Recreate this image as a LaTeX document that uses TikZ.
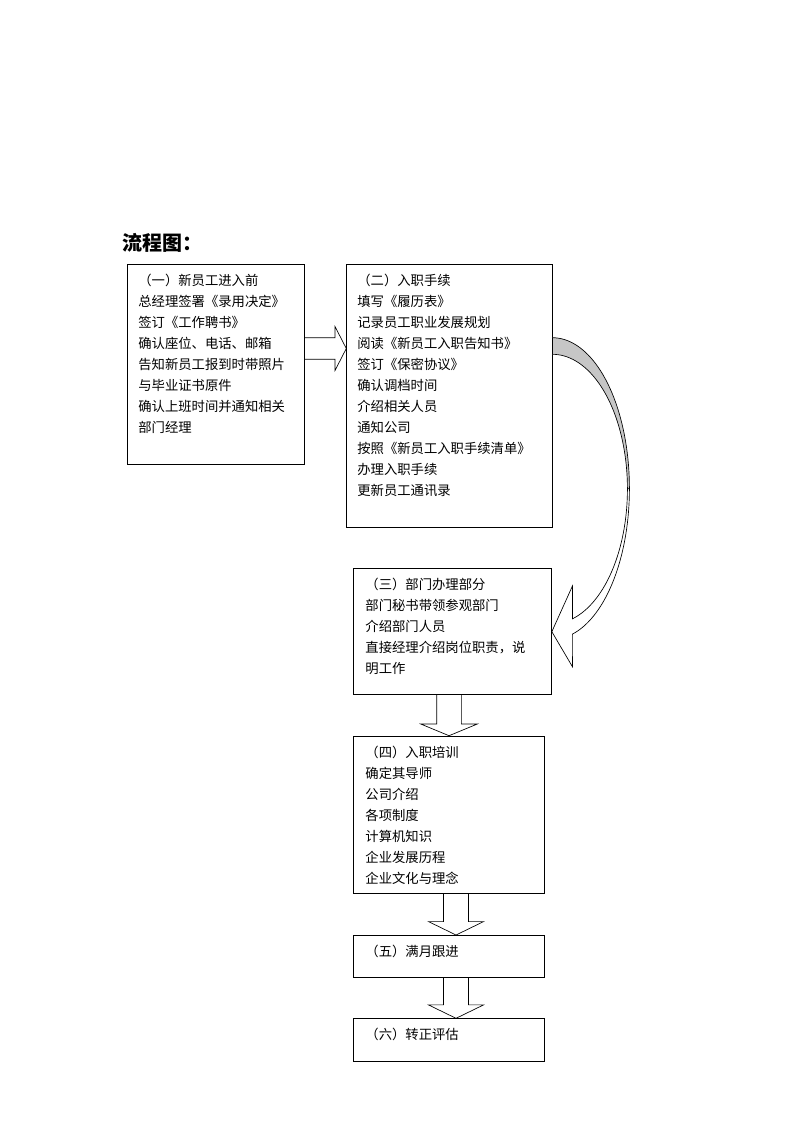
\documentclass[tikz,border=0pt]{standalone}
\usepackage{fontspec}
\setmainfont{Noto Sans CJK SC}
\usepackage{tikz}
\usetikzlibrary{calc}
\tikzset{
  stepbox/.style={draw, line width=0.6pt, anchor=north west, inner xsep=8pt, inner ysep=0pt,
    align=left, font=\fontsize{10pt}{15.75pt}\selectfont, text height=15.75pt},
  blk/.style={line width=0.5pt},
}

\begin{document}
\begin{tikzpicture}[x=0.75pt, y=-0.75pt]
        \useasboundingbox (0,0) rectangle (800,1132);
        \node[anchor=base west, font=\fontsize{15pt}{18pt}\selectfont\bfseries] (title) at (118,250.6) {流程图：};

        % Boxes of the steps
        \node[stepbox, text width=116.75pt, text depth=133.8pt] (b1) at (127.3,264.3)
          {（一）新员工进入前\\总经理签署《录用决定》\\签订《工作聘书》\\确认座位、电话、邮箱\\告知新员工报到时带照片\\与毕业证书原件\\确认上班时间并通知相关\\部门经理};
        \node[stepbox, text width=138pt, text depth=181.05pt] (b2) at (346.3,264.3)
          {（二）入职手续\\填写《履历表》\\记录员工职业发展规划\\阅读《新员工入职告知书》\\签订《保密协议》\\确认调档时间\\介绍相关人员\\通知公司\\按照《新员工入职手续清单》\\办理入职手续\\更新员工通讯录};
        \node[stepbox, inner xsep=8.8pt, text width=130.7pt, text depth=78.75pt] (b3) at (353.3,568.3)
          {（三）部门办理部分\\部门秘书带领参观部门\\介绍部门人员\\直接经理介绍岗位职责，说\\明工作};
        \node[stepbox, inner xsep=8.8pt, text width=125.4pt, text depth=102.45pt] (b4) at (353.3,735.7)
          {（四）入职培训\\确定其导师\\公司介绍\\各项制度\\计算机知识\\企业发展历程\\企业文化与理念};
        \node[stepbox, inner xsep=8.8pt, text width=125.4pt, text depth=15.55pt] (b5) at (353.3,935)
          {（五）满月跟进};
        \node[stepbox, inner xsep=8.8pt, text width=125.4pt, text depth=16.25pt] (b6) at (353.3,1018.3)
          {（六）转正评估};

        % Block arrow from (一) to (二)
        \coordinate (r2) at ($(b2.north west)+(0,84.2)$);
        \draw[blk] ($(b1.east |- r2)+(0,-10.8)$) -- ($(r2)+(-11.3,-10.8)$) -- ($(r2)+(-11.3,-22)$) -- (r2)
          -- ($(r2)+(-11.3,22)$) -- ($(r2)+(-11.3,10.8)$) -- ($(b1.east |- r2)+(0,10.8)$);

        % Curved arrow from (二) to (三)
        \begin{scope}[shift={(b2.north east)}]
          \filldraw[blk, fill=gray!45] plot[domain=90:0, samples=40] ({77*cos(\x)},{224.2-150.8*sin(\x)})
            -- plot[domain=0:90, samples=40] ({75*cos(\x)},{224.7-134.7*sin(\x)}) -- cycle;
          \draw[blk] plot[domain=0:-74.5, samples=40] ({75*cos(\x)},{224.7-134.7*sin(\x)})
            -- (20,321.7) -- (b3.east) -- (20,402.4)
            -- plot[domain=-75:0, samples=40] ({77*cos(\x)},{224.2-150.8*sin(\x)});
        \end{scope}

        % Down arrows
        \coordinate (d1) at (b4.north);
        \draw[blk] ($(d1 |- b3.south)+(-12.3,0)$) -- ($(d1)+(-12.3,-11.7)$) -- ($(d1)+(-28.3,-11.7)$) -- (d1)
          -- ($(d1)+(28.3,-11.7)$) -- ($(d1)+(12.3,-11.7)$) -- ($(d1 |- b3.south)+(12.3,0)$);
        \coordinate (d2) at ($(b5.north)+(7,0)$);
        \draw[blk] ($(d2 |- b4.south)+(-12.5,0)$) -- ($(d2)+(-12.5,-13.4)$) -- ($(d2)+(-27.5,-13.4)$) -- (d2)
          -- ($(d2)+(27.5,-13.4)$) -- ($(d2)+(12.5,-13.4)$) -- ($(d2 |- b4.south)+(12.5,0)$);
        \coordinate (d3) at ($(b6.north)+(7,0)$);
        \draw[blk] ($(d3 |- b5.south)+(-12.5,0)$) -- ($(d3)+(-12.5,-13.4)$) -- ($(d3)+(-27.5,-13.4)$) -- (d3)
          -- ($(d3)+(27.5,-13.4)$) -- ($(d3)+(12.5,-13.4)$) -- ($(d3 |- b5.south)+(12.5,0)$);
\end{tikzpicture}
\end{document}
